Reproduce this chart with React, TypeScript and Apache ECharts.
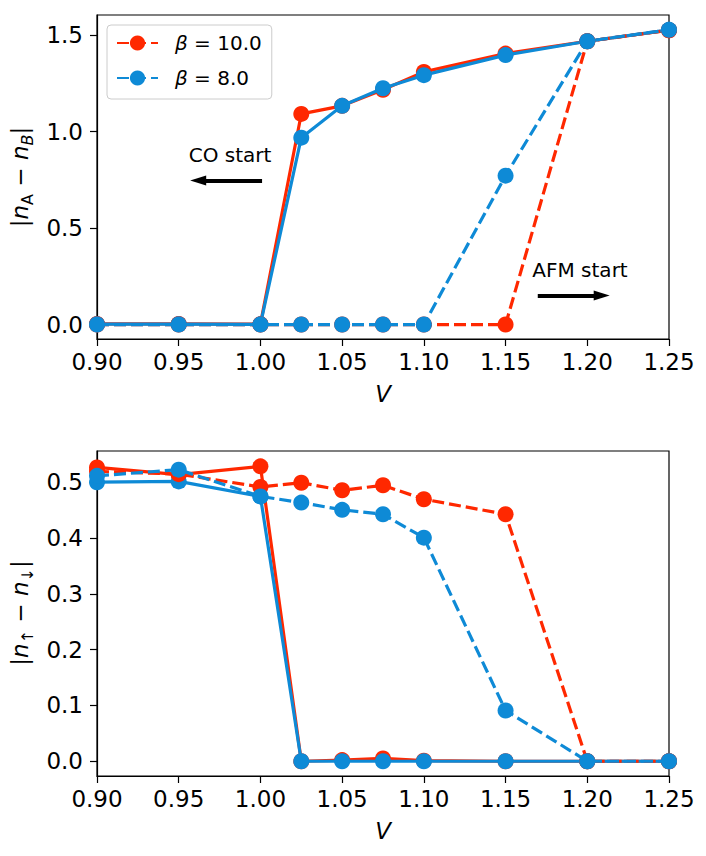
import React, { useEffect, useRef } from 'react';
import * as echarts from 'echarts';

// ---- data ----
const V = [0.9, 0.95, 1.0, 1.025, 1.05, 1.075, 1.1, 1.15, 1.2, 1.25];
const xTicks = [0.9, 0.95, 1.0, 1.05, 1.1, 1.15, 1.2, 1.25];
const topTicks = [0, 0.5, 1.0, 1.5];
const bottomTicks = [0, 0.1, 0.2, 0.3, 0.4, 0.5];

// |n_A - n_B|
const chargeB10Solid = [0.003, 0.003, 0.002, 1.092, 1.134, 1.217, 1.31, 1.405, 1.469, 1.526];
const chargeB8Solid = [0.002, 0.002, 0.001, 0.969, 1.134, 1.225, 1.293, 1.397, 1.469, 1.528];
const chargeB10Dashed = [0, 0, 0, 0, 0, 0, 0, 0, 1.469, 1.526];
const chargeB8Dashed = [0, 0, 0, 0, 0, 0, 0, 0.772, 1.469, 1.528];

// |n_up - n_down|
const spinB10Solid = [0.527, 0.514, 0.529, 0.0, 0.002, 0.005, 0.001, 0, 0, 0];
const spinB8Solid = [0.5005, 0.502, 0.475, 0, 0, 0, 0, 0, 0, 0];
const spinB10Dashed = [0.52, 0.515, 0.492, 0.4995, 0.486, 0.495, 0.47, 0.443, 0, 0];
const spinB8Dashed = [0.512, 0.523, 0.475, 0.464, 0.451, 0.443, 0.401, 0.091, 0, 0];

const RED = '#ff2800';
const BLUE = '#0e8ad6';
const FONT = 'DejaVu Sans';
const TICK_FS = 23;

function mk(name: string, vals: number[], color: string, dashed: boolean, gi: number, z: number, extra: any = {}) {
  return {
    type: 'line',
    name,
    xAxisIndex: gi,
    yAxisIndex: gi,
    data: V.map((v, i) => [v, vals[i]]),
    symbol: 'circle',
    symbolSize: 16,
    showSymbol: true,
    lineStyle: { color, width: 3.2, type: dashed ? [12, 5] : 'solid' },
    itemStyle: { color },
    z,
    silent: true,
    ...extra,
  };
}

export default function App() {
  const ref = useRef<HTMLDivElement>(null);
  useEffect(() => {
    if (!ref.current) return;
    const chart = echarts.init(ref.current, null, { renderer: 'svg' });
    const axisCommon = {
      type: 'value',
      axisLine: { show: true, onZero: false, lineStyle: { color: '#000', width: 1.2 } },
      axisTick: { show: true, inside: false, length: 7, lineStyle: { color: '#000', width: 1.2 } },
      splitLine: { show: false },
    };
    const xAxis = [0, 1].map((gi) => ({
      ...axisCommon,
      gridIndex: gi,
      min: 0.9,
      max: 1.25,
      axisTick: { ...axisCommon.axisTick, customValues: xTicks },
      axisLabel: {
        customValues: xTicks,
        formatter: (v: number) => v.toFixed(2),
        fontSize: TICK_FS,
        fontFamily: FONT,
        color: '#000',
        margin: 11,
      },
      name: 'V',
      nameLocation: 'middle',
      nameGap: 43,
      nameTextStyle: { fontSize: TICK_FS, fontStyle: 'italic', fontFamily: FONT, color: '#000' },
    }));
    const yAxis = [
      {
        ...axisCommon,
        gridIndex: 0,
        min: -0.075,
        max: 1.605,
        axisTick: { ...axisCommon.axisTick, customValues: topTicks },
        axisLabel: {
          customValues: topTicks,
          formatter: (v: number) => v.toFixed(1),
          fontSize: TICK_FS,
          fontFamily: FONT,
          color: '#000',
          margin: 14,
        },
      },
      {
        ...axisCommon,
        gridIndex: 1,
        min: -0.0265,
        max: 0.5565,
        axisTick: { ...axisCommon.axisTick, customValues: bottomTicks },
        axisLabel: {
          customValues: bottomTicks,
          formatter: (v: number) => v.toFixed(1),
          fontSize: TICK_FS,
          fontFamily: FONT,
          color: '#000',
          margin: 14,
        },
      },
    ];

    const richY = {
      i: { fontStyle: 'italic', fontSize: 23, fontFamily: FONT, lineHeight: 30, verticalAlign: 'middle' },
      m: { fontSize: 23, fontFamily: FONT, lineHeight: 30, verticalAlign: 'middle' },
      s: { fontSize: 16, fontFamily: FONT, lineHeight: 16, verticalAlign: 'bottom' },
      si: { fontSize: 16, fontStyle: 'italic', fontFamily: FONT, lineHeight: 16, verticalAlign: 'bottom' },
    };

    const arrowStyle = {
      silent: true,
      symbol: ['none', 'triangle'],
      symbolSize: [10, 16],
      lineStyle: { color: '#000', width: 4, type: 'solid' },
      label: { show: false },
      emphasis: { disabled: true },
      data: [
        [{ coord: [1.001, 0.7465] }, { coord: [0.9619, 0.7465] }],
        [{ coord: [1.1697, 0.15] }, { coord: [1.2088, 0.15] }],
      ],
    };

    chart.setOption({
      animation: false,
      textStyle: { fontFamily: FONT },
      grid: [
        { left: 97, top: 15, width: 572, height: 324, show: true, borderColor: '#000', borderWidth: 1.2, backgroundColor: 'transparent' },
        { left: 97, top: 451, width: 572, height: 325, show: true, borderColor: '#000', borderWidth: 1.2, backgroundColor: 'transparent' },
      ],
      xAxis,
      yAxis,
      legend: {
        data: ['β = 10.0', 'β = 8.0'],
        orient: 'vertical',
        left: 107,
        top: 25,
        itemWidth: 41,
        itemHeight: 19,
        itemGap: 15,
        padding: [8, 10, 11, 9],
        borderColor: '#cccccc',
        borderWidth: 1,
        borderRadius: 4,
        backgroundColor: 'rgba(255,255,255,0.8)',
        selectedMode: false,
        formatter: (name: string) => '{b|β}{t|' + name.slice(1) + '}',
        textStyle: {
          fontSize: 20,
          fontFamily: FONT,
          color: '#000',
          rich: {
            b: { fontStyle: 'italic', fontSize: 20, fontFamily: FONT, padding: [0, 0, 0, 12] },
            t: { fontSize: 20, fontFamily: FONT },
          },
        },
      },
      series: [
        mk('β = 10.0 (solid)', chargeB10Solid, RED, false, 0, 2, { markLine: arrowStyle }),
        mk('β = 8.0 (solid)', chargeB8Solid, BLUE, false, 0, 3),
        mk('β = 10.0', chargeB10Dashed, RED, true, 0, 4),
        mk('β = 8.0', chargeB8Dashed, BLUE, true, 0, 5),
        mk('β = 10.0 (solid) b', spinB10Solid, RED, false, 1, 2),
        mk('β = 8.0 (solid) b', spinB8Solid, BLUE, false, 1, 3),
        mk('β = 10.0 b', spinB10Dashed, RED, true, 1, 4),
        mk('β = 8.0 b', spinB8Dashed, BLUE, true, 1, 5),
      ],
      graphic: [
        {
          type: 'text',
          x: 20,
          y: 177,
          rotation: Math.PI / 2,
          style: {
            text: '{m||}{i|n}{s|A}{m| − }{i|n}{si|B}{m||}',
            rich: richY,
            align: 'center',
            verticalAlign: 'middle',
            fill: '#000',
          },
        },
        {
          type: 'text',
          x: 20,
          y: 613,
          rotation: Math.PI / 2,
          style: {
            text: '{m||}{i|n}{s|↑}{m| − }{i|n}{s|↓}{m||}',
            rich: richY,
            align: 'center',
            verticalAlign: 'middle',
            fill: '#000',
          },
        },
        {
          type: 'text',
          x: 230,
          y: 155,
          style: { text: 'CO start', fontSize: 20, fontFamily: FONT, fill: '#000', align: 'center', verticalAlign: 'middle' },
        },
        {
          type: 'text',
          x: 580,
          y: 270,
          style: { text: 'AFM start', fontSize: 20, fontFamily: FONT, fill: '#000', align: 'center', verticalAlign: 'middle' },
        },
      ],
    });
    return () => chart.dispose();
  }, []);
  return <div ref={ref} style={{ position: 'fixed', left: 0, top: 0, width: 706, height: 856, background: '#fff' }} />;
}
